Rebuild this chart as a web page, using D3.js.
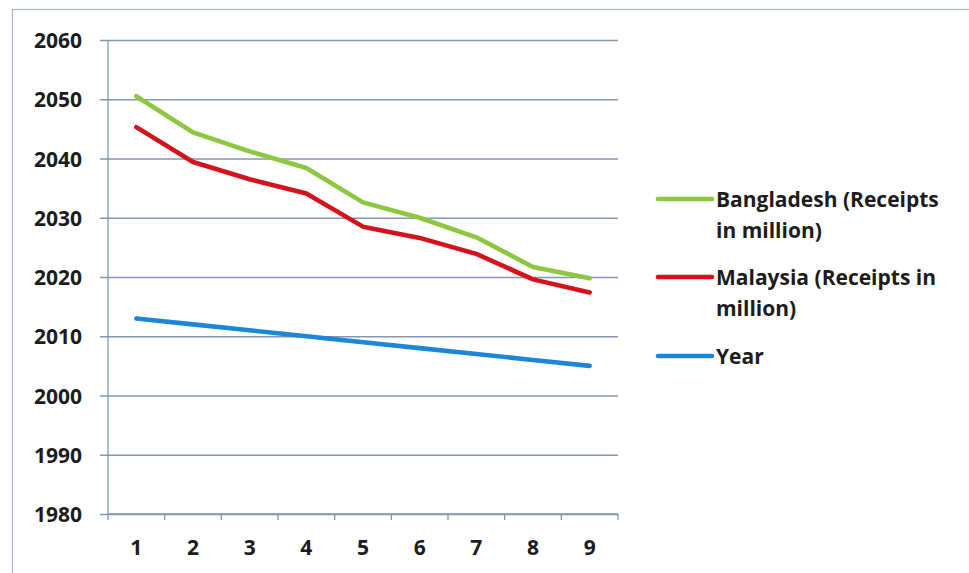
<!DOCTYPE html>
<html>
<head>
<meta charset="utf-8">
<script src="https://cdn.jsdelivr.net/npm/d3@7/dist/d3.min.js"></script>
<style>
  html, body { margin: 0; padding: 0; background: #ffffff; }
  svg { display: block; }
  text { font-family: "Open Sans", "Noto Sans", sans-serif; font-weight: 700; fill: #1c1c1c; }
</style>
</head>
<body>
<svg id="chart" width="969" height="573"></svg>
<script>
// Categories along the x axis
const categories = [1, 2, 3, 4, 5, 6, 7, 8, 9];
// Series values
const bangladesh = [2050.5, 2044.4, 2041.2, 2038.4, 2032.6, 2030.0, 2026.7, 2021.7, 2019.8];
const malaysia   = [2045.3, 2039.4, 2036.5, 2034.1, 2028.5, 2026.6, 2023.9, 2019.6, 2017.4];
const year       = [2013, 2012, 2011, 2010, 2009, 2008, 2007, 2006, 2005];
// Axis ticks
const yTicks = [1980, 1990, 2000, 2010, 2020, 2030, 2040, 2050, 2060];

const seriesNames = ["Bangladesh (Receipts in million)", "Malaysia (Receipts in million)", "Year"];
const legendLines = [["Bangladesh (Receipts", "in million)"], ["Malaysia (Receipts in", "million)"], ["Year"]];
const seriesColors = ["#8dc63f", "#d3121c", "#1d86d6"];
const seriesData = [bangladesh, malaysia, year];

const svg = d3.select("#chart");
const gridColor = "#8497b0";

// chart frame
svg.append("rect")
  .attr("x", 12.5).attr("y", 9.5)
  .attr("width", 1000).attr("height", 600)
  .attr("fill", "none").attr("stroke", "#a9b4c2").attr("stroke-width", 1.2);

const plot = { left: 108, right: 618, top: 40, bottom: 514 };

const x = d3.scaleBand().domain(categories).range([plot.left, plot.right]).padding(0);
const y = d3.scaleLinear().domain([1980, 2060]).range([plot.bottom, plot.top]);

// horizontal gridlines with left tick extension
const yAxis = d3.axisLeft(y).tickValues(yTicks).tickSize(-(plot.right - plot.left)).tickPadding(26).tickFormat(d3.format("d"));
const gy = svg.append("g").attr("transform", `translate(${plot.left},0)`).call(yAxis);
gy.select(".domain").remove();
gy.selectAll(".tick line")
  .attr("x1", -8)
  .attr("stroke", gridColor).attr("stroke-width", 1.3);
gy.selectAll(".tick text")
  .attr("font-size", 21).attr("dy", "0.36em");

// vertical axis line
svg.append("line")
  .attr("x1", plot.left).attr("x2", plot.left)
  .attr("y1", plot.top).attr("y2", plot.bottom)
  .attr("stroke", gridColor).attr("stroke-width", 1.3);

// x axis with ticks at band boundaries
const gx = svg.append("g").attr("transform", `translate(0,${plot.bottom})`);
gx.append("line")
  .attr("x1", plot.left).attr("x2", plot.right)
  .attr("stroke", gridColor).attr("stroke-width", 1.3);
const boundaries = categories.map(c => x(c)).concat([x(categories[categories.length - 1]) + x.bandwidth()]);
gx.selectAll("line.tk").data(boundaries).join("line")
  .attr("class", "tk")
  .attr("x1", d => d).attr("x2", d => d)
  .attr("y1", 0).attr("y2", 6)
  .attr("stroke", gridColor).attr("stroke-width", 1.3);
gx.selectAll("text").data(categories).join("text")
  .attr("x", d => x(d) + x.bandwidth() / 2)
  .attr("y", 41)
  .attr("text-anchor", "middle")
  .attr("font-size", 21)
  .text(d => d);

// series lines
const line = d3.line()
  .x((d, i) => x(categories[i]) + x.bandwidth() / 2)
  .y(d => y(d));

svg.append("g").selectAll("path")
  .data(seriesData)
  .join("path")
  .attr("d", d => line(d))
  .attr("fill", "none")
  .attr("stroke", (d, i) => seriesColors[i])
  .attr("stroke-width", 4.6)
  .attr("stroke-linejoin", "round")
  .attr("stroke-linecap", "round");

// legend
const legendY = [199, 277, 356];
const legend = svg.append("g");
legendLines.forEach((lines, i) => {
  const g = legend.append("g").attr("transform", `translate(0,${legendY[i]})`);
  g.append("line")
    .attr("x1", 658).attr("x2", 712)
    .attr("stroke", seriesColors[i]).attr("stroke-width", 4.6)
    .attr("stroke-linecap", "round");
  const t = g.append("text")
    .attr("x", 716).attr("y", 0)
    .attr("font-size", 21);
  lines.forEach((s, j) => {
    t.append("tspan").attr("x", 716).attr("dy", j === 0 ? "0.36em" : 31).text(s);
  });
});
</script>
</body>
</html>
